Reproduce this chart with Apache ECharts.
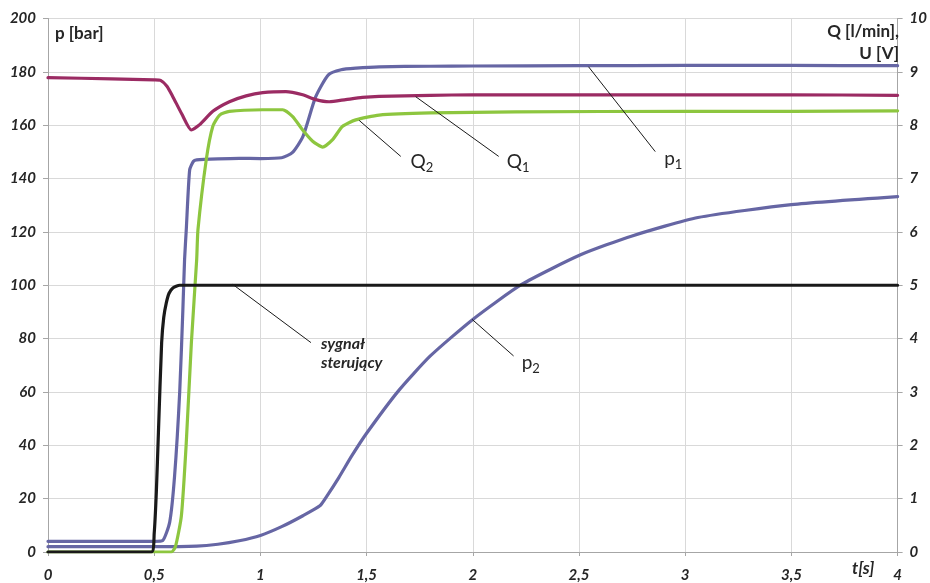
<!DOCTYPE html>
<html><head><meta charset="utf-8">
<script src="https://cdn.jsdelivr.net/npm/echarts@6/dist/echarts.min.js"></script>
<style>html,body{margin:0;padding:0;background:#fff}#c{width:930px;height:583px}</style>
</head><body><div id="c"></div>
<script>
// ---- data (t in s; p in bar; Q in l/min; U in V) ----
const p1T = [0, 0.3, 0.5, 0.54, 0.573, 0.596, 0.62, 0.635, 0.643, 0.651, 0.667, 0.685, 0.70, 0.8, 0.9, 1.0, 1.1, 1.15, 1.2, 1.26, 1.32, 1.38, 1.45, 1.56, 1.8, 2.0, 2.5, 3.0, 3.5, 4.0];
const p1V = [4.0, 4.0, 4.0, 4.3, 11.2, 28.5, 59.9, 90.9, 109.6, 120.8, 143.3, 146.5, 147.0, 147.4, 147.6, 147.5, 147.8, 149.7, 155.7, 170.6, 178.9, 180.8, 181.4, 181.9, 182.1, 182.2, 182.3, 182.4, 182.4, 182.3];

const p2T = [0, 0.5, 0.7, 0.8, 0.9, 1.0, 1.1, 1.2, 1.28, 1.31, 1.37, 1.43, 1.5, 1.65, 1.8, 2.0, 2.23, 2.51, 2.75, 3.06, 3.5, 4.0];
const p2V = [2.0, 2.0, 2.2, 2.9, 4.2, 6.2, 9.5, 13.6, 17.3, 20.6, 28, 36, 44.5, 60.4, 73.5, 87.2, 100.3, 111.5, 118.5, 125.4, 130.2, 133.2];

const q1T = [0, 0.3, 0.5, 0.53, 0.56, 0.587, 0.63, 0.675, 0.714, 0.776, 0.854, 0.933, 1.011, 1.12, 1.199, 1.261, 1.324, 1.402, 1.48, 1.559, 1.8, 2.0, 2.5, 3.0, 3.5, 4.0];
const q1V = [8.89, 8.87, 8.85, 8.84, 8.73, 8.54, 8.21, 7.91, 8.01, 8.26, 8.44, 8.55, 8.61, 8.63, 8.57, 8.48, 8.44, 8.48, 8.52, 8.54, 8.56, 8.57, 8.57, 8.57, 8.57, 8.56];

const q2T = [0, 0.58, 0.60, 0.628, 0.651, 0.675, 0.70, 0.706, 0.745, 0.776, 0.808, 0.854, 1.011, 1.105, 1.152, 1.199, 1.246, 1.293, 1.34, 1.387, 1.449, 1.559, 1.8, 2.2, 3.0, 3.5, 4.0];
const q2V = [0, 0, 0.1, 0.68, 2.05, 3.92, 5.48, 6.04, 7.35, 7.98, 8.19, 8.26, 8.29, 8.29, 8.16, 7.91, 7.70, 7.59, 7.73, 7.98, 8.10, 8.19, 8.23, 8.25, 8.26, 8.26, 8.27];

const uT = [0, 0.487, 0.50, 0.51, 0.52, 0.535, 0.545, 0.557, 0.57, 0.588, 0.62, 1.0, 2.0, 3.0, 4.0];
const uV = [0, 0, 0.35, 1.12, 2.25, 3.92, 4.4, 4.67, 4.85, 4.95, 5.0, 5.0, 5.0, 5.0, 5.0];

const xTicks = [0, 0.5, 1, 1.5, 2, 2.5, 3, 3.5, 4];

// annotations: leader line from [t,p] to [t,p], label at [t,p] (left axis units)
const annotations = [
  {from: [2.545, 181.9], to: [2.859, 150.1], at: [2.901, 147.8], text: '{m|p}{s|1}'},
  {from: [1.731, 170.7], to: [2.122, 148.3], at: [2.160, 146.7], text: '{m|Q}{s|1}'},
  {from: [1.465, 161.8], to: [1.661, 148.3], at: [1.707, 146.7], text: '{m|Q}{s|2}'},
  {from: [1.997, 87.2], to: [2.192, 73.5], at: [2.230, 71.6], text: '{m|p}{s|2}'},
  {from: [0.870, 100.3], to: [1.238, 78.5], at: [1.285, 74.4], text: 'sygnał\nsterujący', bold: true}
];

const zip = (a, b) => a.map((v, i) => [v, b[i]]);
const FONT = 'Lato';
const tickLbl = {fontFamily: FONT, fontWeight: 'bold', fontStyle: 'italic', fontSize: 15, color: '#262626'};

const chart = echarts.init(document.getElementById('c'), null, {renderer: 'canvas'});
const lineS = (name, data, color, yi) => ({
  name, type: 'line', data, yAxisIndex: yi, showSymbol: false, symbol: 'none',
  smooth: 0.2,
  lineStyle: {width: 3.2, color, join: 'round', cap: 'round'}, itemStyle: {color}, animation: false
});

chart.setOption({
  animation: false,
  backgroundColor: '#ffffff',
  grid: {left: 48, right: 30, top: 18.5, bottom: 30},
  xAxis: {
    type: 'value', min: 0, max: 4, interval: 0.5,
    axisLine: {onZero: false, lineStyle: {color: '#a6a6a6', width: 1}},
    axisTick: {show: true, length: 4, inside: false, lineStyle: {color: '#a6a6a6'}},
    axisLabel: Object.assign({margin: 16, formatter: v => String(v).replace('.', ',')}, tickLbl),
    splitLine: {show: true, lineStyle: {color: '#d9d9d9', width: 1}}
  },
  yAxis: [
    {type: 'value', min: 0, max: 200, interval: 20,
     axisLine: {show: true, lineStyle: {color: '#a6a6a6'}},
     axisTick: {show: true, length: 5, lineStyle: {color: '#a6a6a6'}},
     axisLabel: Object.assign({margin: 12}, tickLbl),
     splitLine: {show: true, lineStyle: {color: '#d9d9d9', width: 1}}},
    {type: 'value', min: 0, max: 10, interval: 1, position: 'right',
     axisLine: {show: true, lineStyle: {color: '#a6a6a6'}},
     axisTick: {show: true, length: 5, lineStyle: {color: '#a6a6a6'}},
     axisLabel: Object.assign({margin: 12}, tickLbl),
     splitLine: {show: false}}
  ],
  series: [
    lineS('p2', zip(p2T, p2V), '#6666a4', 0),
    lineS('p1', zip(p1T, p1V), '#6666a4', 0),
    lineS('Q1', zip(q1T, q1V), '#9b2b63', 1),
    lineS('Q2', zip(q2T, q2V), '#8dc63f', 1),
    lineS('U', zip(uT, uV), '#1a1a1a', 1)
  ]
});

const px = c => chart.convertToPixel({xAxisIndex: 0, yAxisIndex: 0}, c);
const graphics = [];
annotations.forEach(a => {
  const f = px(a.from), t = px(a.to), l = px(a.at);
  graphics.push({type: 'line', shape: {x1: f[0], y1: f[1], x2: t[0], y2: t[1]},
    style: {stroke: '#1a1a1a', lineWidth: 1}, z: 100});
  if (a.bold) {
    graphics.push({type: 'text', x: l[0], y: l[1], z: 100,
      style: {text: a.text, fontFamily: FONT, fontWeight: 'bold', fontStyle: 'italic', fontSize: 16,
        fill: '#262626', textAlign: 'left', textVerticalAlign: 'middle', lineHeight: 19}});
  } else {
    graphics.push({type: 'text', x: l[0], y: l[1], z: 100,
      style: {text: a.text, textAlign: 'left', textVerticalAlign: 'middle', fill: '#262626',
        rich: {m: {fontFamily: FONT, fontSize: 19, fill: '#262626', verticalAlign: 'bottom', lineHeight: 22},
               s: {fontFamily: FONT, fontSize: 13, fill: '#262626', verticalAlign: 'bottom', lineHeight: 16, padding: [0, 0, -3, 0]}}}});
  }
});
// axis titles
graphics.push({type: 'text', left: 55, top: 25, z: 100,
  style: {text: 'p [bar]', fontFamily: FONT, fontWeight: 'bold', fontSize: 17, fill: '#262626'}});
graphics.push({type: 'text', right: 31, top: 21, z: 100,
  style: {text: 'Q [l/min],\nU [V]', fontFamily: FONT, fontWeight: 'bold', fontSize: 17, fill: '#262626', textAlign: 'right', lineHeight: 22}});
graphics.push({type: 'text', left: 852, top: 560, z: 100,
  style: {text: 't[s]', fontFamily: FONT, fontWeight: 'bold', fontStyle: 'italic', fontSize: 17, fill: '#262626'}});
chart.setOption({graphic: graphics});
</script>
</body></html>
